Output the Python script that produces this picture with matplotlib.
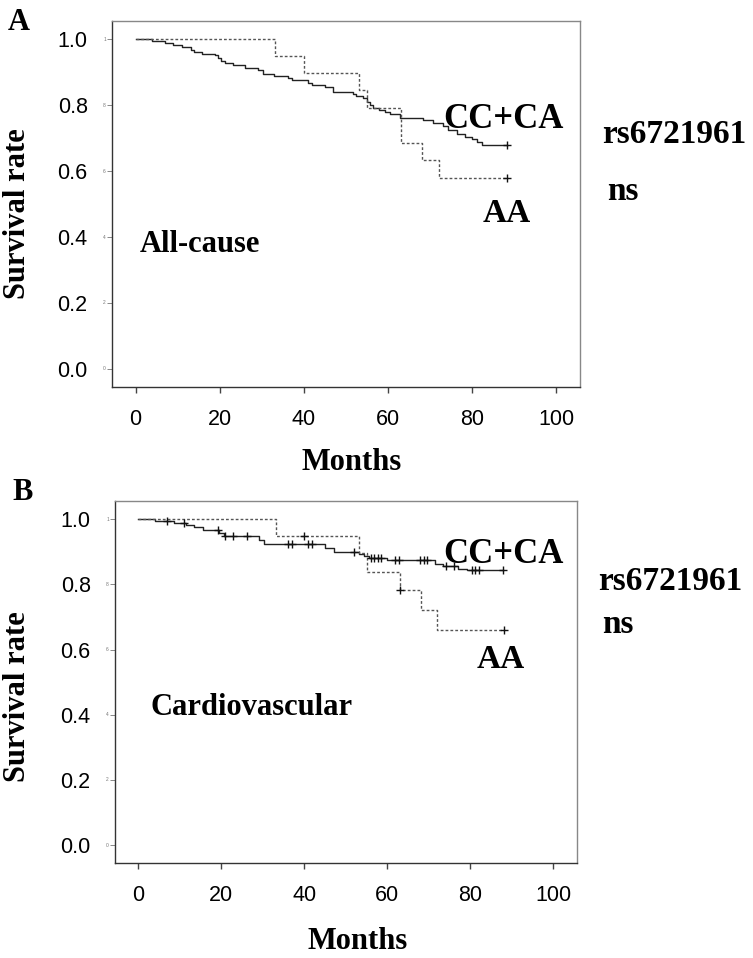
import numpy as np
import matplotlib
matplotlib.use("Agg")
import matplotlib.pyplot as plt

W, H = 753, 958

# ---- panel A: all-cause survival ----
a_cc_t = [0, 4.0, 6.9, 8.8, 11.0, 13.1, 14.0, 15.9, 19.0, 19.6, 20.4, 21.2, 23.1, 26.0,
          29.1, 30.2, 32.9, 36.3, 37.2, 41.0, 42.0, 45.0, 47.0, 51.6, 52.5, 54.1, 55.1,
          55.7, 56.4, 57.9, 59.3, 60.5, 63.0, 68.3, 70.8, 73.2, 74.4, 76.4, 78.3, 79.9,
          81.1, 82.3, 88.3]
a_cc_s = [1.0, 0.995, 0.99, 0.984, 0.977, 0.969, 0.963, 0.957, 0.952, 0.944, 0.936, 0.928,
          0.921, 0.913, 0.906, 0.894, 0.889, 0.882, 0.876, 0.869, 0.862, 0.855, 0.841,
          0.835, 0.828, 0.821, 0.81, 0.80, 0.791, 0.786, 0.78, 0.775, 0.762, 0.755, 0.747,
          0.737, 0.725, 0.714, 0.705, 0.697, 0.689, 0.68, 0.68]
a_cc_cens = [88.3]
a_aa_t = [0, 33.1, 40.0, 53.1, 55.0, 63.1, 68.1, 72.1, 88.3]
a_aa_s = [1.0, 0.949, 0.897, 0.846, 0.793, 0.687, 0.633, 0.58, 0.58]
a_aa_cens = [88.3]

# ---- panel B: cardiovascular survival ----
b_cc_t = [0, 4.1, 8.7, 11.5, 13.5, 15.7, 19.5, 20.6, 29.0, 30.3, 45.1, 47.1, 53.2, 54.5,
          55.6, 59.9, 71.5, 73.5, 77.1, 79.2, 87.8]
b_cc_s = [1.0, 0.995, 0.989, 0.982, 0.975, 0.966, 0.958, 0.948, 0.937, 0.925, 0.911, 0.90,
          0.894, 0.887, 0.88, 0.876, 0.863, 0.856, 0.848, 0.843, 0.843]
b_cc_cens = [6.9, 11.0, 19.1, 20.9, 22.9, 26.1, 36.1, 37.0, 41.0, 41.9, 52.0, 56.1, 56.9,
             57.7, 58.5, 61.9, 62.7, 67.9, 68.9, 69.6, 74.2, 76.0, 80.4, 81.2, 82.0, 87.8]
b_aa_t = [0, 33.1, 53.1, 55.0, 63.0, 68.0, 72.0, 88.0]
b_aa_s = [1.0, 0.948, 0.895, 0.838, 0.782, 0.72, 0.66, 0.66]
b_aa_cens = [40.0, 63.0, 88.0]

yticks = [0.0, 0.2, 0.4, 0.6, 0.8, 1.0]
ytick_labels = ["0.0", "0.2", "0.4", "0.6", "0.8", "1.0"]
ghost_labels = ["0", "2", "4", "6", "8", "1"]
xticks = [0, 20, 40, 60, 80, 100]

SERIF = "Liberation Serif"
SANS = "Liberation Sans"


def fx(x):
    return x / W


def fy(y):
    return 1 - y / H


def step_val(t, s, x):
    i = np.searchsorted(t, x, side="right") - 1
    return s[i]


def km_panel(ax, cc_t, cc_s, cc_c, aa_t, aa_s, aa_c):
    ax.step(cc_t, cc_s, where="post", color="#222222", lw=1.0)
    ax.step(aa_t, aa_s, where="post", color="#555555", lw=1.0, linestyle=(0, (2, 1.5)))
    ax.plot(cc_c, [step_val(cc_t, cc_s, c) for c in cc_c], "+", color="#111111",
            ms=6, mew=1.0)
    ax.plot(aa_c, [step_val(aa_t, aa_s, c) for c in aa_c], "+", color="#111111",
            ms=6, mew=1.0)
    ax.set_xlim(-5.6, 105.7)
    ax.set_ylim(-0.055, 1.056)
    ax.set_xticks(xticks)
    ax.set_xticklabels([str(v) for v in xticks], fontfamily=SANS, fontsize=15.5)
    ax.set_yticks(yticks)
    ax.set_yticklabels(ytick_labels, fontfamily=SANS, fontsize=15.5)
    ax.tick_params(axis="x", length=4.5, width=1, color="#444444", pad=11)
    ax.tick_params(axis="y", length=3.5, width=0.7, color="#888888", pad=14)
    for sp in ["left", "bottom"]:
        ax.spines[sp].set_color("#333333")
        ax.spines[sp].set_linewidth(1.0)
    for sp in ["top", "right"]:
        ax.spines[sp].set_color("#888888")
        ax.spines[sp].set_linewidth(1.0)
    # faint duplicate tick labels next to the y ticks
    for v, g in zip(yticks, ghost_labels):
        ax.text(-0.013, v, g, transform=ax.get_yaxis_transform(), ha="right",
                va="center", fontsize=3.5, color="#777777", fontfamily=SANS)


fig = plt.figure(figsize=(W / 100, H / 100), dpi=100)

axA = fig.add_axes([fx(112), fy(387), fx(580) - fx(112), fy(21) - fy(387)])
km_panel(axA, a_cc_t, a_cc_s, a_cc_cens, a_aa_t, a_aa_s, a_aa_cens)

axB = fig.add_axes([fx(115), fy(863), fx(577) - fx(115), fy(501) - fy(863)])
km_panel(axB, b_cc_t, b_cc_s, b_cc_cens, b_aa_t, b_aa_s, b_aa_cens)

bold = dict(fontfamily=SERIF, fontweight="bold", va="baseline", ha="left")

# panel A texts
fig.text(fx(8), fy(30), "A", fontsize=22, **bold)
fig.text(fx(443), fy(128), "CC+CA", fontsize=25, **bold)
fig.text(fx(602), fy(143), "rs6721961", fontsize=24, **bold)
fig.text(fx(607), fy(200), "ns", fontsize=24, **bold)
fig.text(fx(483), fy(222), "AA", fontsize=24, **bold)
fig.text(fx(140), fy(252), "All-cause", fontsize=22, **bold)
fig.text(fx(302), fy(470), "Months", fontsize=22, **bold)
fig.text(fx(18), fy(214), "Survival rate", fontsize=22, rotation=90, fontfamily=SERIF,
         fontweight="bold", ha="center", va="center")

# panel B texts
fig.text(fx(12), fy(500), "B", fontsize=22, **bold)
fig.text(fx(443), fy(563), "CC+CA", fontsize=25, **bold)
fig.text(fx(598), fy(590), "rs6721961", fontsize=24, **bold)
fig.text(fx(602), fy(633), "ns", fontsize=24, **bold)
fig.text(fx(477), fy(668), "AA", fontsize=24, **bold)
fig.text(fx(150), fy(715), "Cardiovascular", fontsize=22, **bold)
fig.text(fx(307), fy(949), "Months", fontsize=22, **bold)
fig.text(fx(18), fy(697), "Survival rate", fontsize=22, rotation=90, fontfamily=SERIF,
         fontweight="bold", ha="center", va="center")

fig.savefig("out.png", dpi=100)
